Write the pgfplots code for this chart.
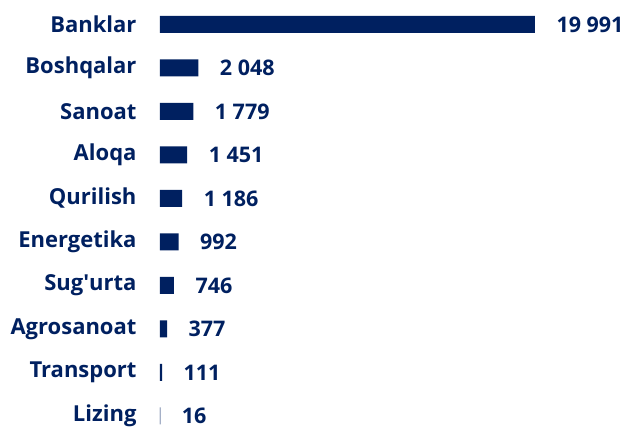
\documentclass[border=0pt]{standalone}
\usepackage{fontspec}
\setmainfont{Open Sans}
\usepackage{pgfplots}
\pgfplotsset{compat=1.18}
\definecolor{navy}{HTML}{002060}
\begin{document}
\begin{tikzpicture}
\begin{axis}[
  at={(160pt,0pt)}, anchor=north west,
  scale only axis,
  width=467pt, height=428pt,
  xbar, bar width=17pt,
  xmin=0, xmax=24896,
  y dir=reverse,
  ymin=-0.563, ymax=9.276,
  axis line style={draw=none},
  xtick=\empty,
  ytick={0,...,9},
  yticklabels={Banklar,Boshqalar,Sanoat,Aloqa,Qurilish,Energetika,Sug\textquotesingle urta,Agrosanoat,Transport,Lizing},
  ytick style={draw=none},
  major tick length=0pt,
  yticklabel style={font=\fontsize{22}{24}\selectfont\bfseries, text=navy, anchor=east, xshift=-20pt},
  /pgf/number format/assume math mode=true,
  nodes near coords={\pgfmathprintnumber[fixed,precision=0,1000 sep={\ }]{\pgfplotspointmeta}},
  every node near coord/.append style={font=\fontsize{21.5}{23}\selectfont\bfseries, text=navy, anchor=west, xshift=18pt},
  clip=false,
]
\addplot[fill=navy, draw=none] coordinates {
(19991,0) (2048,1) (1779,2) (1451,3) (1186,4) (992,5) (746,6) (377,7) (111,8) (16,9)
};
\end{axis}
\pgfresetboundingbox
\useasboundingbox (0,0) rectangle (627pt,-428pt);
\end{tikzpicture}
\end{document}
